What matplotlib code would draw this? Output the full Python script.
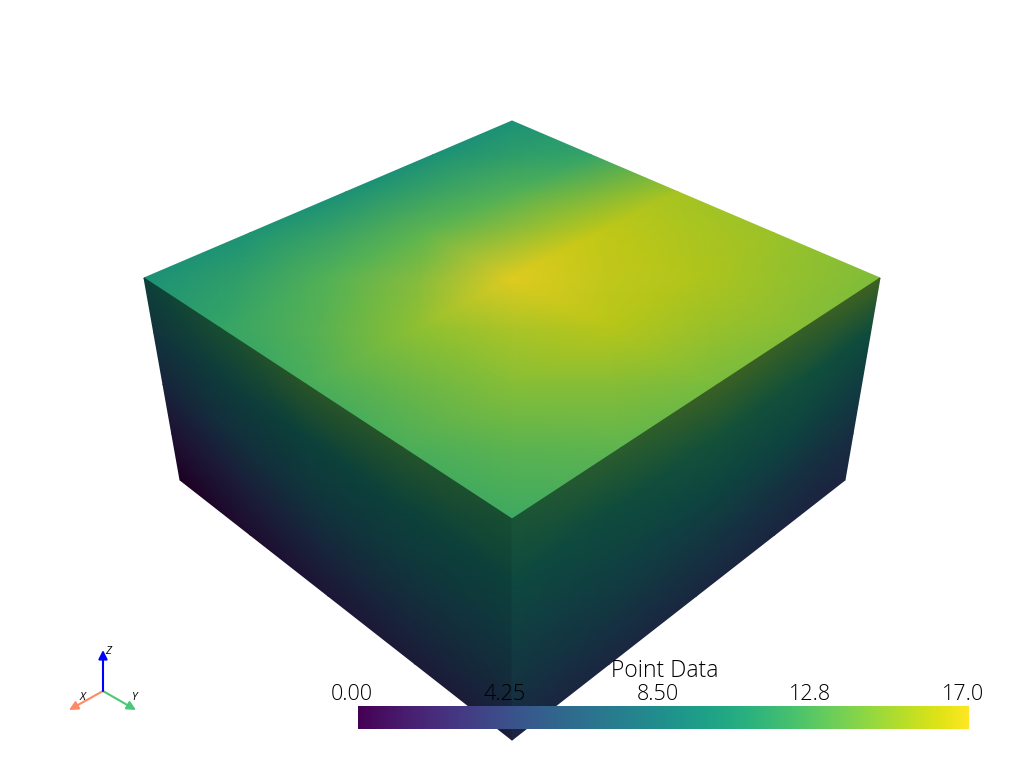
import matplotlib
matplotlib.use('Agg')
import matplotlib.pyplot as plt
from matplotlib.colors import ListedColormap
import numpy as np

# point data on the three visible faces, rows/cols run across each face
top_values = np.array([
    [ 9.9, 11.6, 15.3, 15.0, 14.2],
    [ 9.9, 12.7, 16.1, 15.6, 14.4],
    [ 9.9, 13.2, 17.0, 15.8, 14.0],
    [10.2, 12.8, 14.6, 14.4, 13.2],
    [ 9.9, 11.6, 12.4, 12.5, 12.0],
])
left_values = np.array([
    [ 9.3, 11.6, 13.0, 12.6, 11.5],
    [ 7.0,  8.4,  9.2,  9.4,  9.2],
    [ 4.5,  6.2,  7.4,  7.6,  7.5],
    [ 2.0,  3.5,  4.8,  5.2,  5.5],
    [ 0.0,  1.5,  2.6,  3.2,  3.5],
])
right_values = np.array([
    [14.0, 13.6, 13.8, 12.8, 11.5],
    [ 9.8, 10.6, 10.8, 10.0,  9.5],
    [ 7.5,  8.8,  8.8,  8.3,  7.8],
    [ 5.4,  6.0,  6.4,  6.4,  6.0],
    [ 4.0,  4.2,  4.4,  4.4,  4.0],
])
colorbar_ticks = [0.00, 4.25, 8.50, 12.75, 17.00]
colorbar_labels = ['0.00', '4.25', '8.50', '12.8', '17.0']
colorbar_title = 'Point Data'
value_min, value_max = 0, 17

plt.rcParams['font.family'] = ['Open Sans', 'DejaVu Sans']


def shaded_map(shade):
    rgb = plt.cm.viridis(np.linspace(0, 1, 256))[:, :3] * shade
    return ListedColormap(rgb)


def face_mesh(corners, values):
    # perspective map of the unit square onto the four screen corners
    (x0, y0), (x1, y1), (x2, y2), (x3, y3) = corners
    rows, cols = values.shape
    dx1, dx2, sx = x1 - x2, x3 - x2, x0 - x1 + x2 - x3
    dy1, dy2, sy = y1 - y2, y3 - y2, y0 - y1 + y2 - y3
    den = dx1 * dy2 - dx2 * dy1
    g = (sx * dy2 - dx2 * sy) / den
    h = (dx1 * sy - sx * dy1) / den
    a, b, c = x1 - x0 + g * x1, x3 - x0 + h * x3, x0
    d, e, f = y1 - y0 + g * y1, y3 - y0 + h * y3, y0
    u, v = np.meshgrid(np.linspace(0, 1, cols), np.linspace(0, 1, rows))
    w = g * u + h * v + 1
    return (a * u + b * v + c) / w, (d * u + e * v + f) / w


fig = plt.figure(figsize=(10.24, 7.68), dpi=100)
ax = fig.add_axes([0, 0, 1, 1])
ax.set_xlim(0, 1024)
ax.set_ylim(768, 0)
ax.axis('off')

faces = [
    (top_values, [(512, 121), (880, 278), (512, 519), (144, 278)], 0.88),
    (left_values, [(144, 278), (512, 519), (512, 740), (180, 480)], 0.42),
    (right_values, [(880, 278), (512, 519), (512, 740), (845, 480)], 0.46),
]
for values, corners, shade in faces:
    X, Y = face_mesh(corners, values)
    ax.pcolormesh(X, Y, values, shading='gouraud', cmap=shaded_map(shade),
                  vmin=value_min, vmax=value_max, rasterized=True)

# colorbar
bar = np.linspace(value_min, value_max, 256)[None, :]
ax.imshow(bar, extent=(358, 969, 729, 706), cmap='viridis', aspect='auto',
          vmin=value_min, vmax=value_max, zorder=3)
ax.set_xlim(0, 1024)
ax.set_ylim(768, 0)
for tick, label in zip(colorbar_ticks, colorbar_labels):
    x = 352 + (963 - 352) * tick / value_max
    ax.text(x, 694, label, ha='center', va='center', fontsize=15.5,
            fontweight='light', color='black', zorder=4)
ax.text(665, 671, colorbar_title, ha='center', va='center', fontsize=16.5,
        fontweight='light', color='black', zorder=4)

# orientation marker
origin = (103, 691)
axis_tips = [('X', (69, 710), '#ff8a65', (83, 698)),
             ('Y', (136, 710), '#4cc77a', (135, 698)),
             ('Z', (103, 650), '#0000ff', (108, 652))]
for name, tip, color, label_pos in axis_tips:
    ax.annotate('', xy=tip, xytext=origin,
                arrowprops=dict(arrowstyle='-|>', color=color, lw=1.5,
                                mutation_scale=13, shrinkA=0, shrinkB=0))
    ax.text(label_pos[0], label_pos[1], name, fontsize=8, style='italic',
            ha='center', va='center', color='black')

fig.savefig('out.png', dpi=100)
